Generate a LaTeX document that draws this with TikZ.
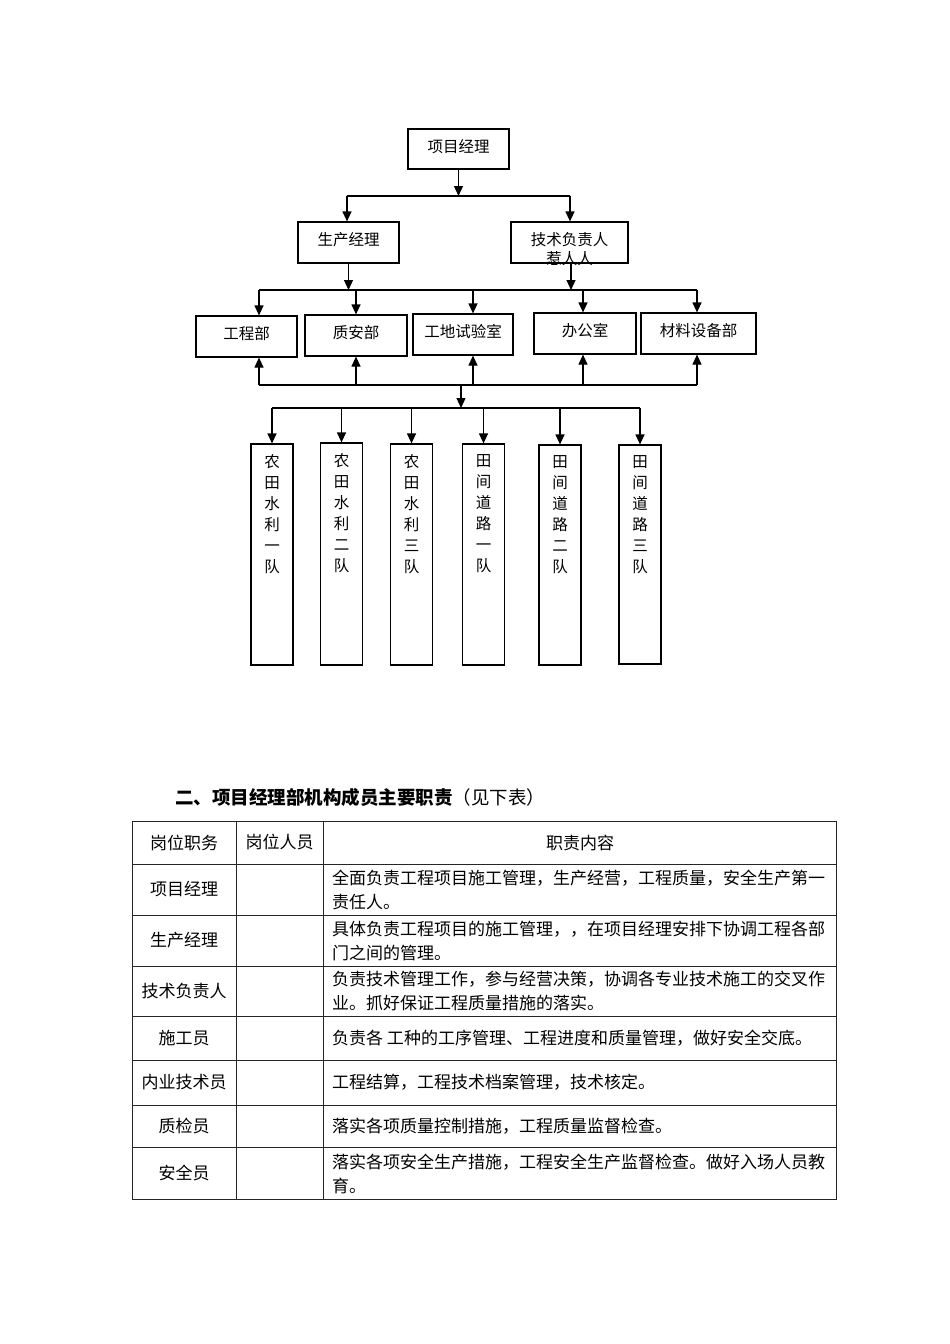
\documentclass[tikz,border=0pt]{standalone}
\usepackage{fontspec}
\setmainfont{Noto Sans CJK SC}
\usetikzlibrary{arrows.meta}
\begin{document}
\begin{tikzpicture}[x=1pt,y=-1pt,
  box/.style={draw, line width=1.2pt, inner sep=0pt, font=\fontsize{15.5}{18}\selectfont},
  boxtext/.style={inner sep=0pt, yshift=2.5pt, font=\fontsize{15.5}{18}\selectfont},
  teambox/.style={draw, line width=1.2pt, minimum width=42pt, inner sep=0pt,
    label={[anchor=north, yshift=-11pt, inner sep=0pt, align=center, font=\fontsize{15.5}{21}\selectfont]north:#1}},
  arr/.style={-{Triangle[length=10pt,width=9pt]}, line width=1.2pt},
  bus/.style={line width=1.2pt},
  cell/.style={font=\fontsize{17}{24}\selectfont, inner sep=0pt},
  tline/.style={line width=1pt, draw=black!85}]
\useasboundingbox (0,0) rectangle (950,1344);
\fill[white] (0,0) rectangle (950,1344);

% ---- level 1 and 2
\node[box, minimum width=101pt, minimum height=40pt] (pm) at (458.5,149) {};
\node[boxtext] (pmt) at (pm) {项目经理};
\node[box, minimum width=101pt, minimum height=41pt] (sc) at (348.5,242.5) {};
\node[boxtext] (sct) at (sc) {生产经理};
\node[box, minimum width=117pt, minimum height=41pt] (js) at (569.5,242.5) {};
\node[align=center, inner sep=0pt, font=\fontsize{15.5}{19}\selectfont] (jst) at (569.5,249.5) {技术负责人\\惹人人};

\coordinate (t0) at (458.5,196);
\coordinate (tl) at (347,196);
\coordinate (tr) at (570,196);
\draw[arr] (pm.south) -- (t0);
\draw[bus] (tl) -- (tr);
\draw[arr] (tl) -- (tl |- sc.north);
\draw[arr] (tr) -- (tr |- js.north);

% ---- level 3
\node[box, minimum width=101pt, minimum height=41pt] (gcb) at (246.5,336.5) {};
\node[boxtext] (gcbt) at (gcb) {工程部};
\node[box, minimum width=102pt, minimum height=41pt] (zab) at (356,335.5) {};
\node[boxtext] (zabt) at (zab) {质安部};
\node[box, minimum width=100pt, minimum height=41pt] (syb) at (463,334.5) {};
\node[boxtext] (sybt) at (syb) {工地试验室};
\node[box, minimum width=102pt, minimum height=41pt] (bgs) at (585,333.5) {};
\node[boxtext] (bgst) at (bgs) {办公室};
\node[box, minimum width=115pt, minimum height=41pt] (clb) at (698.5,333.5) {};
\node[boxtext] (clbt) at (clb) {材料设备部};

\coordinate (m1) at (259,290);
\coordinate (m2) at (356,290);
\coordinate (m3) at (473,290);
\coordinate (m4) at (583,290);
\coordinate (m5) at (697,290);
\coordinate (jsb) at (571,290);
\draw[arr] (sc.south) -- (sc.south |- m1);
\draw[arr] (jsb |- js.south) -- (jsb);
\draw[bus] (m1) -- (m5);
\draw[arr] (m1) -- (m1 |- gcb.north);
\draw[arr] (m2) -- (m2 |- zab.north);
\draw[arr] (m3) -- (m3 |- syb.north);
\draw[arr] (m4) -- (m4 |- bgs.north);
\draw[arr] (m5) -- (m5 |- clb.north);

\coordinate (l1) at (259,385);
\coordinate (l2) at (356,385);
\coordinate (l3) at (473,385);
\coordinate (l4) at (583,385);
\coordinate (l5) at (697,385);
\draw[bus] (l1) -- (l5);
\draw[arr] (l1) -- (l1 |- gcb.south);
\draw[arr] (l2) -- (l2 |- zab.south);
\draw[arr] (l3) -- (l3 |- syb.south);
\draw[arr] (l4) -- (l4 |- bgs.south);
\draw[arr] (l5) -- (l5 |- clb.south);

% ---- teams
\coordinate (lc) at (461,385);
\coordinate (bc) at (461,408);
\draw[arr] (lc) -- (bc);
\node[teambox={农\\田\\水\\利\\一\\队}, minimum height=221pt] (d1) at (272,554.5) {};
\node[teambox={农\\田\\水\\利\\二\\队}, minimum height=222pt] (d2) at (341.5,554) {};
\node[teambox={农\\田\\水\\利\\三\\队}, minimum height=221pt] (d3) at (411.5,554.5) {};
\node[teambox={田\\间\\道\\路\\一\\队}, minimum height=221pt] (d4) at (483.5,554.5) {};
\node[teambox={田\\间\\道\\路\\二\\队}, minimum height=220pt] (d5) at (560,555) {};
\node[teambox={田\\间\\道\\路\\三\\队}, minimum height=219pt] (d6) at (640,554.5) {};
\coordinate (b1) at (272,408);
\coordinate (b2) at (341.5,408);
\coordinate (b3) at (411.5,408);
\coordinate (b4) at (483.5,408);
\coordinate (b5) at (560,408);
\coordinate (b6) at (640,408);
\draw[bus] (b1) -- (b6);
\draw[arr] (b1) -- (d1.north);
\draw[arr] (b2) -- (d2.north);
\draw[arr] (b3) -- (d3.north);
\draw[arr] (b4) -- (d4.north);
\draw[arr] (b5) -- (d5.north);
\draw[arr] (b6) -- (d6.north);

% ---- title
\node[anchor=west, inner sep=0pt, font=\fontsize{18.5}{20}\selectfont] (title) at (175,797)
  {\textbf{二、项目经理部机构成员主要职责}（见下表）};

% ---- table
\draw[tline] (132,821) rectangle (836,1199);
\draw[tline] (236,821) -- (236,1199);
\draw[tline] (323,821) -- (323,1199);
\foreach \yy in {864,915,966,1016,1060,1105,1147}
  \draw[tline] (132,\yy) -- (836,\yy);

\node[cell] (h1) at (184,842.5) {岗位职务};
\node[cell] (h2) at (279.5,842.5) {岗位人员};
\node[cell] (h3) at (580,842.5) {职责内容};

\node[cell] (r1a) at (184,889.5) {项目经理};
\node[cell] (r2a) at (184,940.5) {生产经理};
\node[cell] (r3a) at (184,991) {技术负责人};
\node[cell] (r4a) at (184,1038) {施工员};
\node[cell] (r5a) at (184,1082.5) {内业技术员};
\node[cell] (r6a) at (184,1126) {质检员};
\node[cell] (r7a) at (184,1173) {安全员};

\node[cell, anchor=west, align=left] (r1c) at (332,890) {全面负责工程项目施工管理，生产经营，工程质量，安全生产第一\\责任人。};
\node[cell, anchor=west, align=left] (r2c) at (332,941) {具体负责工程项目的施工管理，，在项目经理安排下协调工程各部\\门之间的管理。};
\node[cell, anchor=west, align=left] (r3c) at (332,991) {负责技术管理工作，参与经营决策，协调各专业技术施工的交叉作\\业。抓好保证工程质量措施的落实。};
\node[cell, anchor=west] (r4c) at (332,1038) {负责各 工种的工序管理、工程进度和质量管理，做好安全交底。};
\node[cell, anchor=west] (r5c) at (332,1082.5) {工程结算，工程技术档案管理，技术核定。};
\node[cell, anchor=west] (r6c) at (332,1126) {落实各项质量控制措施，工程质量监督检查。};
\node[cell, anchor=west, align=left] (r7c) at (332,1174) {落实各项安全生产措施，工程安全生产监督检查。做好入场人员教\\育。};
\end{tikzpicture}
\end{document}
